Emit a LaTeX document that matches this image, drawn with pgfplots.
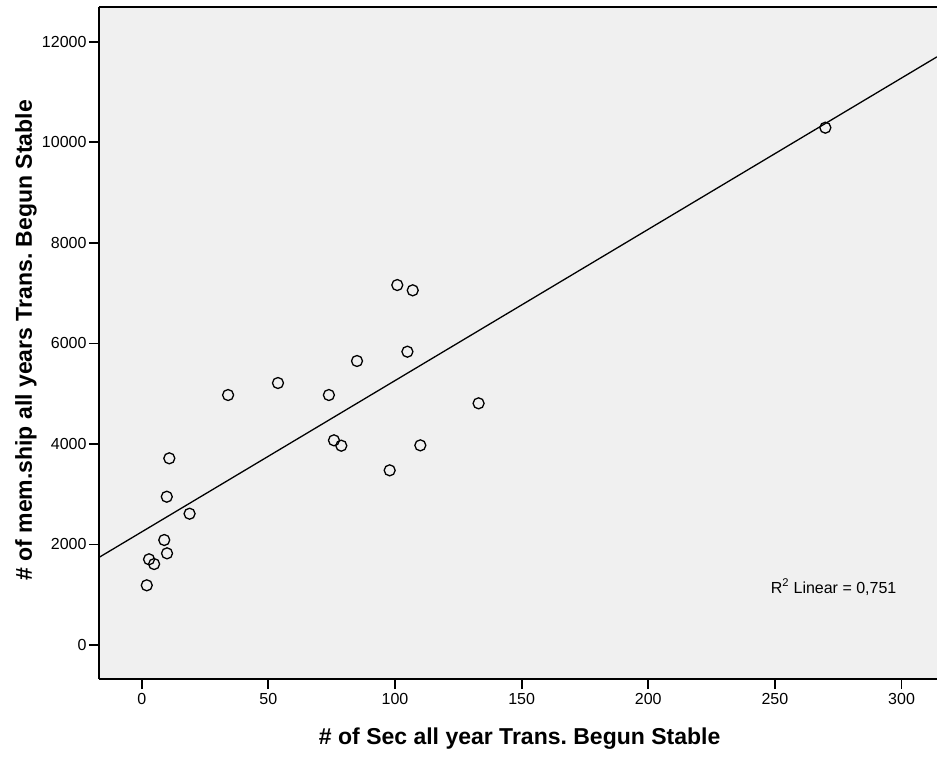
\documentclass[border=0pt]{standalone}
\usepackage{pgfplots}
\pgfplotsset{compat=1.18}
\usepackage{fontspec}
\setmainfont{Liberation Sans}
\definecolor{bgc}{HTML}{F0F0F0}
\begin{document}
\frenchspacing
\begin{tikzpicture}
\useasboundingbox (-99pt,-79pt) rectangle (838pt,679pt);
\begin{axis}[
  at={(0pt,0pt)}, anchor=south west,
  scale only axis, width=838pt, height=672pt,
  xmin=-16.86, xmax=313.98, ymin=-676, ymax=12692,
  xtick={0,50,100,150,200,250,300},
  ytick={0,2000,4000,6000,8000,10000,12000},
  scaled ticks=false,
  axis background/.style={fill=bgc},
  axis line style={line width=1.6pt},
  axis x line*=bottom, axis y line*=left,
  tick style={line width=1.8pt, black},
  major tick length=10pt,
  tick align=outside,
  /pgf/number format/.cd, 1000 sep={}, assume math mode=true,
  /pgfplots/.cd,
  ticklabel style={font=\fontsize{16}{19}\selectfont},
  xticklabel style={yshift=-1pt},
  yticklabel style={xshift=1pt},
  xlabel={\# of Sec all year Trans. Begun Stable},
  ylabel={\# of mem.ship all years Trans. Begun Stable},
  xlabel style={font=\bfseries\fontsize{23}{27}\selectfont, at={(axis description cs:0.502,0)}, yshift=-60pt, anchor=center},
  ylabel style={font=\bfseries\fontsize{23}{27}\selectfont, at={(axis description cs:0,0.504)}, yshift=73pt, anchor=center},
  clip=true,
]
\draw[line width=1.6pt] (rel axis cs:0,1) -- (rel axis cs:1,1);
\addplot[only marks, mark=o, mark size=5.5pt, mark options={line width=1.3pt, black}] coordinates {
(10.9,3714) (9.9,2950) (18.9,2612) (8.9,2089) (10.0,1824) (2.9,1705) (4.9,1611) (2.0,1188)
(100.9,7161) (107.0,7056) (85.0,5650) (104.9,5835) (73.9,4973) (133.0,4808) (75.9,4072)
(78.8,3965) (110.0,3972) (97.9,3475) (34.1,4973) (53.8,5212) (269.9,10291)
};
\addplot[black, line width=1.3pt] coordinates {(-16.86,1742.5) (313.98,11700.8)};
\node[anchor=west, font=\fontsize{16}{19}\selectfont] at (axis cs:247,1154) {R\textsuperscript{2} Linear = 0,751};
\end{axis}
\end{tikzpicture}
\end{document}
